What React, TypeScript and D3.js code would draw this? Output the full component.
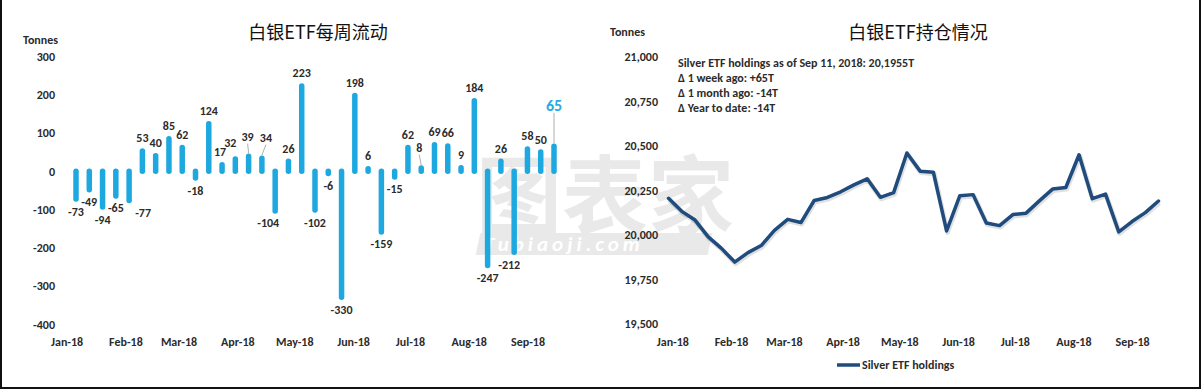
import React from 'react';
import * as d3 from 'd3';

// weekly silver ETF flows (tonnes), Tuesdays of 2018
const weekDates = [
  '2018-01-02', '2018-01-09', '2018-01-16', '2018-01-23', '2018-01-30',
  '2018-02-06', '2018-02-13', '2018-02-20', '2018-02-27',
  '2018-03-06', '2018-03-13', '2018-03-20', '2018-03-27',
  '2018-04-03', '2018-04-10', '2018-04-17', '2018-04-24',
  '2018-05-01', '2018-05-08', '2018-05-15', '2018-05-22', '2018-05-29',
  '2018-06-05', '2018-06-12', '2018-06-19', '2018-06-26',
  '2018-07-03', '2018-07-10', '2018-07-17', '2018-07-24', '2018-07-31',
  '2018-08-07', '2018-08-14', '2018-08-21', '2018-08-28',
  '2018-09-04', '2018-09-11',
];
const flows = [
  -73, -49, -94, -65, -77, 53, 40, 85, 62, -18, 124, 17, 32, 39, 34, -104, 26, 223, -102, -6,
  -330, 198, 6, -159, -15, 62, 8, 69, 66, 9, 184, -247, 26, -212, 58, 50, 65,
];

// holdings (tonnes)
const holdingDates = ['2017-12-26', ...weekDates];
const holdings = [
  20203, 20130, 20081, 19987, 19922, 19845, 19898, 19938, 20023, 20085, 20067, 20191, 20208,
  20240, 20279, 20313, 20209, 20235, 20458, 20356, 20350, 20020, 20218, 20224, 20065, 20050,
  20112, 20120, 20189, 20255, 20264, 20448, 20201, 20227, 20015, 20073, 20123, 20188,
];

const flowTicks = [300, 200, 100, 0, -100, -200, -300, -400];
const holdTicks = [21000, 20750, 20500, 20250, 20000, 19750, 19500];
const monthLabels = ['Jan-18', 'Feb-18', 'Mar-18', 'Apr-18', 'May-18', 'Jun-18', 'Jul-18', 'Aug-18', 'Sep-18'];
const notes = [
  'Silver ETF holdings as of Sep 11, 2018: 20,1955T',
  'Δ 1 week ago: +65T',
  'Δ 1 month ago: -14T',
  'Δ Year to date: -14T',
];

const FONT = "Carlito, Calibri, Lato, 'Open Sans', sans-serif";
const CJK = "'Noto Sans CJK SC', sans-serif";
const BAR = '#1ea8e0';
const LINE = '#1f4b7d';
const TXT = '#2b2b2b';

const parse = d3.timeParse('%Y-%m-%d');

// hand-placed label nudges [dx, dy] like in the original workbook
const nudge: Record<number, [number, number]> = {
  4: [14, 0], 11: [-2, 0], 12: [-5, -3], 13: [-1, -7], 14: [4, -8], 15: [-7, 0],
  26: [-2, -8], 33: [-5, 0], 36: [0, -28],
};

const App: React.FC = () => {
  const wDates = weekDates.map((d) => parse(d) as Date);
  const hDates = holdingDates.map((d) => parse(d) as Date);
  const months = d3.timeMonth.range(new Date(2018, 0, 1), new Date(2018, 8, 2));

  // left chart scales
  const xL = d3.scaleTime().domain([wDates[0], wDates[wDates.length - 1]]).range([76, 554]);
  const yL = d3.scaleLinear().domain([-400, 300]).range([324, 56.5]);

  // right chart scales
  const xR = d3.scaleTime().domain([hDates[0], hDates[hDates.length - 1]]).range([668.5, 1158.5]);
  const yR = d3.scaleLinear().domain([19500, 21000]).range([323.5, 56.5]);

  const line = d3.line<number>()
    .x((_, i) => xR(hDates[i]))
    .y((d) => yR(d));

  return (
    <svg width={1202} height={390} style={{ position: 'absolute', left: 0, top: 0, background: '#fff' }}
      fontFamily={FONT}>
      <rect x={0} y={0} width={1202} height={390} fill="#fff" />

      {/* watermark */}
      <g opacity={0.45}>
        <text x={476} y={228} fontFamily={CJK} fontSize={86} fontWeight={700} fill="#d0d0d0">图表家</text>
        <rect x={478} y={233} width={232} height={22} fill="#d0d0d0" transform="skewX(-12)" style={{ transformOrigin: '478px 244px' }} />
        <text x={484} y={251} fontSize={21} fontWeight={900} fontStyle="italic" fill="#fff" letterSpacing={4}>Tubiaoji.com</text>
      </g>

      {/* ---------- left: weekly flows ---------- */}
      <text x={318} y={39} textAnchor="middle" fontFamily={CJK} fontSize={18} fill="#111">白银ETF每周流动</text>
      <text x={23} y={43.5} fontSize={12} fontWeight={700} fill={TXT}>Tonnes</text>
      {flowTicks.map((t) => (
        <text key={t} x={55} y={yL(t) + 4.5} textAnchor="end" fontSize={12} fontWeight={700} fill={TXT}>{t}</text>
      ))}
      {months.map((m, i) => (
        <text key={i} x={xL(m) - 7} y={345.5} textAnchor="middle" fontSize={12} fontWeight={700} fill={TXT}>{monthLabels[i]}</text>
      ))}
      {flows.map((v, i) => (
        <line key={i} x1={xL(wDates[i])} x2={xL(wDates[i])} y1={yL(0)} y2={yL(v)}
          stroke={BAR} strokeWidth={5.5} strokeLinecap="round" />
      ))}
      {flows.map((v, i) => {
        const [dx, dy] = nudge[i] || [0, 0];
        const last = i === flows.length - 1;
        const cx = xL(wDates[i]) + dx;
        const base = v >= 0 ? yL(v) - 8.5 + dy : yL(v) + 16.5 + dy;
        const lead = v >= 0 && dy <= -6;
        return (
          <g key={i}>
            {lead && (
              <line x1={cx} x2={xL(wDates[i])} y1={base + 3} y2={yL(v) - 3} stroke="#9a9a9a" strokeWidth={0.8} />
            )}
            <text x={cx} y={last ? base + 1 : base} textAnchor="middle" fontSize={last ? 16 : 12}
              fontWeight={700} fill={last ? '#2aaae2' : TXT}>{v}</text>
          </g>
        );
      })}

      {/* ---------- right: holdings ---------- */}
      <text x={918} y={39} textAnchor="middle" fontFamily={CJK} fontSize={18} fill="#111">白银ETF持仓情况</text>
      <text x={610} y={36} fontSize={12} fontWeight={700} fill={TXT}>Tonnes</text>
      {holdTicks.map((t) => (
        <text key={t} x={658} y={yR(t) + 4.5} textAnchor="end" fontSize={12} fontWeight={700} fill={TXT}>{d3.format(',')(t)}</text>
      ))}
      {months.map((m, i) => (
        <text key={i} x={xR(m) - 7} y={346} textAnchor="middle" fontSize={12} fontWeight={700} fill={TXT}>{monthLabels[i]}</text>
      ))}
      {notes.map((n, i) => (
        <text key={i} x={678} y={67 + i * 15} fontSize={12} fontWeight={700} fill={TXT}>{n}</text>
      ))}
      <path d={line(holdings) || ''} fill="none" stroke="#000" strokeOpacity={0.12} strokeWidth={5}
        strokeLinejoin="round" transform="translate(0.8,1.5)" />
      <path d={line(holdings) || ''} fill="none" stroke={LINE} strokeWidth={3.5} strokeLinejoin="round" strokeLinecap="round" />

      {/* legend */}
      <line x1={837} x2={860} y1={365} y2={365} stroke={LINE} strokeWidth={3.5} />
      <text x={862} y={369} fontSize={12} fontWeight={700} fill={TXT}>Silver ETF holdings</text>

      {/* frame */}
      <path d="M1,0 V388 H1200 V0" fill="none" stroke="#111" strokeWidth={2} />
    </svg>
  );
};

export default App;
